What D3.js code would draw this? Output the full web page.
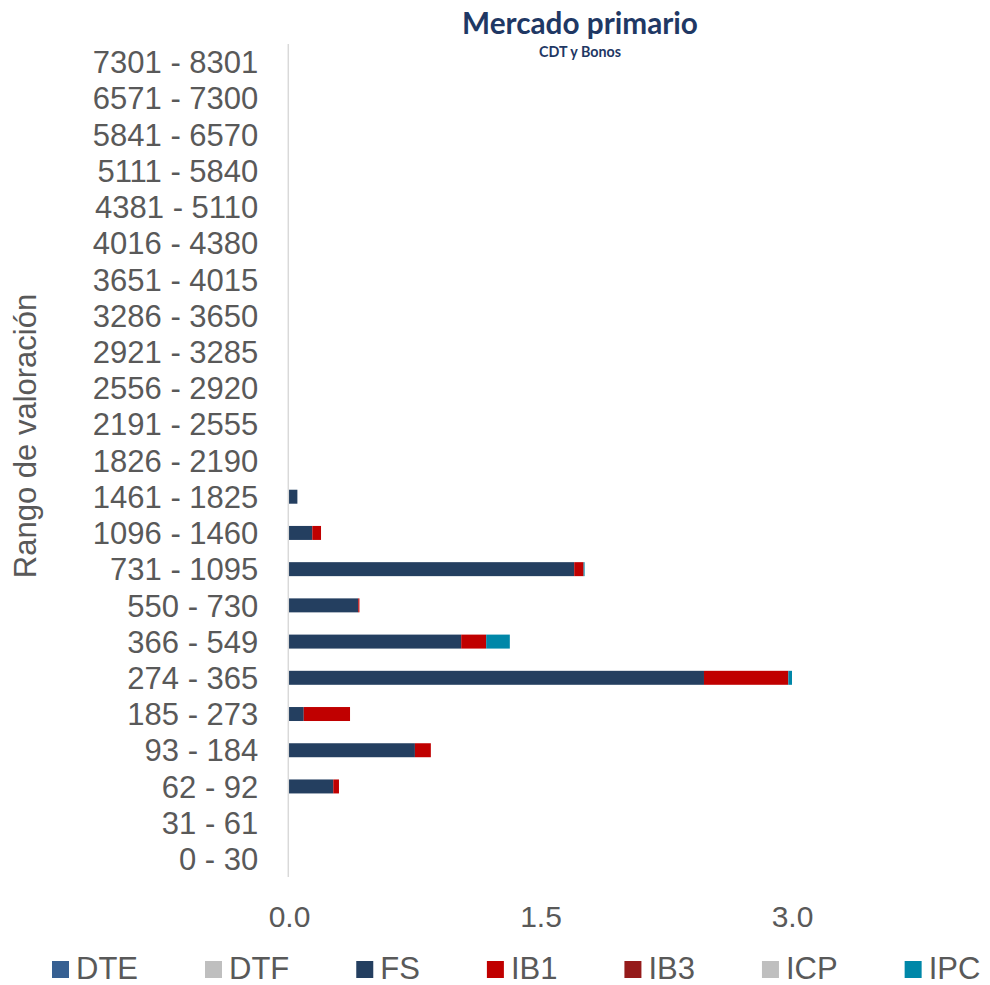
<!DOCTYPE html>
<html>
<head>
<meta charset="utf-8">
<script src="https://cdn.jsdelivr.net/npm/d3@7"></script>
<style>
  html, body { margin: 0; padding: 0; background: #fff; }
  svg { display: block; }
</style>
</head>
<body>
<svg id="chart" width="990" height="985"></svg>
<script>
// ---- Data ----
const categories = [
  "7301 - 8301", "6571 - 7300", "5841 - 6570", "5111 - 5840", "4381 - 5110",
  "4016 - 4380", "3651 - 4015", "3286 - 3650", "2921 - 3285", "2556 - 2920",
  "2191 - 2555", "1826 - 2190", "1461 - 1825", "1096 - 1460", "731 - 1095",
  "550 - 730", "366 - 549", "274 - 365", "185 - 273", "93 - 184",
  "62 - 92", "31 - 61", "0 - 30"
];
const seriesNames = ["DTE", "DTF", "FS", "IB1", "IB3", "ICP", "IPC"];
const DTE = [0,0,0,0,0,0,0,0,0,0,0,0,0,0,0,0,0,0,0,0,0,0,0];
const DTF = [0,0,0,0,0,0,0,0,0,0,0,0,0,0,0,0,0,0,0,0,0,0,0];
const FS  = [0,0,0,0,0,0,0,0,0,0,0,0,0.050,0.139,1.701,0.413,1.027,2.475,0.088,0.751,0.264,0,0];
const IB1 = [0,0,0,0,0,0,0,0,0,0,0,0,0,0.052,0.056,0.007,0.149,0.503,0.276,0.095,0.034,0,0];
const IB3 = [0,0,0,0,0,0,0,0,0,0,0,0,0,0,0,0,0,0,0,0,0,0,0];
const ICP = [0,0,0,0,0,0,0,0,0,0,0,0,0,0,0,0,0,0,0,0,0,0,0];
const IPC = [0,0,0,0,0,0,0,0,0,0,0,0,0,0,0.006,0,0.141,0.022,0,0,0,0,0];
const xTicks = [0, 1.5, 3.0];
const titleText = "Mercado primario";
const subtitleText = "CDT y Bonos";
const yAxisTitle = "Rango de valoración";

const seriesValues = { DTE, DTF, FS, IB1, IB3, ICP, IPC };
const colors = {
  DTE: "#376092", DTF: "#BFBFBF", FS: "#243F60", IB1: "#C00000",
  IB3: "#951B1B", ICP: "#BFBFBF", IPC: "#0087A8"
};

// ---- Build table ----
const table = categories.map((c, i) => {
  const row = { cat: c };
  seriesNames.forEach(s => row[s] = seriesValues[s][i]);
  return row;
});
const stacked = d3.stack().keys(seriesNames)(table);

const svg = d3.select("#chart");
const font = "'Liberation Sans', Arial, sans-serif";
const textColor = "#595959";

const plotTop = 44, plotBottom = 877;
const x = d3.scaleLinear().domain([0, 3]).range([289, 792]);
const y = d3.scaleBand().domain(categories).range([plotTop, plotBottom])
  .paddingInner(0.614).paddingOuter(0.307);

// Bars
svg.append("g").selectAll("g").data(stacked).join("g")
  .attr("fill", d => colors[d.key])
  .selectAll("rect").data(d => d).join("rect")
  .attr("x", d => x(d[0]))
  .attr("y", d => y(d.data.cat))
  .attr("width", d => Math.max(0, x(d[1]) - x(d[0])))
  .attr("height", y.bandwidth());

// Y axis
const yAxis = d3.axisLeft(y).tickSize(0).tickPadding(30);
const gy = svg.append("g").attr("transform", "translate(288.3,0)").call(yAxis);
gy.select(".domain").attr("stroke", "#D9D9D9").attr("stroke-width", 1.5)
  .attr("d", `M0,${plotTop}V${plotBottom}`);
gy.selectAll("text").attr("font-family", font).attr("font-size", 31)
  .attr("fill", textColor).attr("dy", "0.36em");

// X axis (labels only)
const xAxis = d3.axisBottom(x).tickValues(xTicks).tickFormat(d3.format(".1f")).tickSize(0).tickPadding(0);
const gx = svg.append("g").attr("transform", "translate(0,927)").call(xAxis);
gx.select(".domain").remove();
gx.selectAll("text").attr("font-family", font).attr("font-size", 30)
  .attr("fill", textColor).attr("dy", 0);

// Y axis title
svg.append("text")
  .attr("transform", "translate(36,436) rotate(-90)")
  .attr("text-anchor", "middle")
  .attr("font-family", font).attr("font-size", 31).attr("fill", textColor)
  .text(yAxisTitle);

// Title (font size fitted to the reference width)
function fitText(sel, targetWidth, startSize) {
  sel.attr("font-size", startSize);
  const w = sel.node().getComputedTextLength();
  sel.attr("font-size", startSize * targetWidth / w);
}
const title = svg.append("text")
  .attr("x", 580).attr("y", 34).attr("text-anchor", "middle")
  .attr("font-family", "Lato, 'Open Sans', sans-serif").attr("font-weight", "bold")
  .attr("fill", "#1F3864")
  .text(titleText);
fitText(title, 236, 26);
const subtitle = svg.append("text")
  .attr("x", 580).attr("y", 57).attr("text-anchor", "middle")
  .attr("font-family", "Lato, 'Open Sans', sans-serif").attr("font-weight", "bold")
  .attr("fill", "#1F3864")
  .text(subtitleText);
fitText(subtitle, 82, 12);

// Legend
const legend = svg.append("g");
let lx = 52;
seriesNames.forEach(s => {
  const g = legend.append("g").attr("transform", `translate(${lx},0)`);
  g.append("rect").attr("x", 0).attr("y", 961).attr("width", 17).attr("height", 17)
    .attr("fill", colors[s]);
  const t = g.append("text").attr("x", 24).attr("y", 979)
    .attr("font-family", font).attr("font-size", 31).attr("fill", textColor)
    .text(s);
  const w = t.node().getComputedTextLength();
  lx += 24 + w + 67;
});
</script>
</body>
</html>
